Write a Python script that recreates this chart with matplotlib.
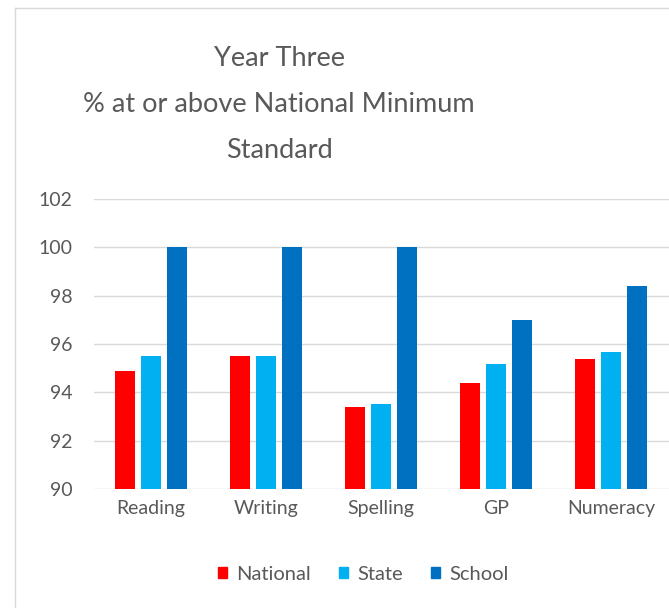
import numpy as np
import matplotlib
matplotlib.use("Agg")
import matplotlib.pyplot as plt
from matplotlib.lines import Line2D
from matplotlib.patches import Patch

categories = ["Reading", "Writing", "Spelling", "GP", "Numeracy"]
national = [94.87, 95.52, 93.4, 94.38, 95.36]
state = [95.52, 95.52, 93.53, 95.19, 95.68]
school = [100, 100, 100, 97, 98.42]
series_names = ["National", "State", "School"]
colors = ["#FF0000", "#00B0F0", "#0070C0"]
yticks = [90, 92, 94, 96, 98, 100, 102]

plt.rcParams["font.family"] = ["Lato", "DejaVu Sans"]

W, H = 669, 608
fig = plt.figure(figsize=(W / 100, H / 100), dpi=100)

# chart border (left and top edges visible)
fig.add_artist(Line2D([15 / W, 15 / W], [0, 1 - 8 / H], color="#d9d9d9", lw=1))
fig.add_artist(Line2D([15 / W, 1], [1 - 8 / H, 1 - 8 / H], color="#d9d9d9", lw=1))

left, right = 93.5 / W, 668.5 / W
bottom, top = 1 - 489 / H, 1 - 199 / H
ax = fig.add_axes([left, bottom, right - left, top - bottom])

x = np.arange(len(categories))
bw = 0.174
step = 0.226
for i, (vals, c, name) in enumerate(zip([national, state, school], colors, series_names)):
    ax.bar(x + (i - 1) * step, np.array(vals) - 90, bottom=90, width=bw, color=c, label=name, zorder=3)

ax.set_xlim(-0.5, len(categories) - 0.5)
ax.set_ylim(90, 102)
ax.set_yticks(yticks)
ax.set_yticklabels([str(t) for t in yticks])
ax.set_xticks(x)
ax.set_xticklabels(categories)
ax.grid(axis="y", color="#d9d9d9", lw=1, zorder=0)
for s in ax.spines.values():
    s.set_visible(False)
ax.tick_params(axis="both", length=0, colors="#595959", labelsize=14)
ax.tick_params(axis="y", pad=15)
ax.tick_params(axis="x", pad=8)

fig.text(279 / W, 1 - 105 / H,
         "Year Three\n% at or above National Minimum\nStandard",
         ha="center", va="center", fontsize=19.5, color="#595959", linespacing=2.05)

handles = [Patch(color=c) for c in colors]
fig.legend(handles, series_names, loc="center", bbox_to_anchor=(363 / W, 1 - 574 / H),
           ncol=3, frameon=False, fontsize=14.5, handlelength=0.45, handleheight=0.5,
           handletextpad=0.45, columnspacing=1.4, labelcolor="#595959")

fig.savefig("out.png", dpi=100)
